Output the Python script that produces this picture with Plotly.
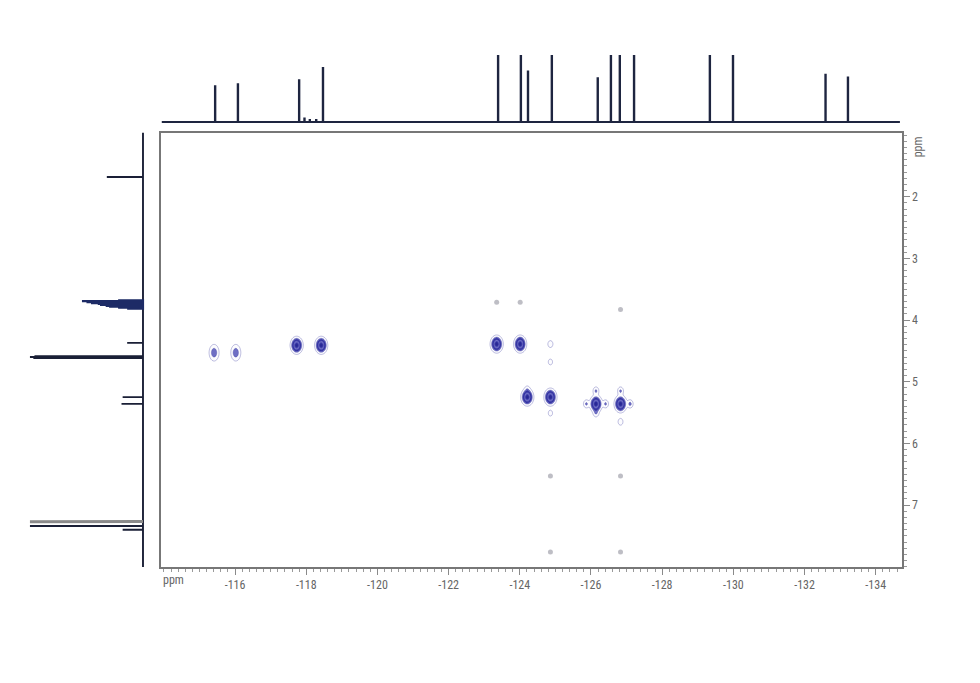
import numpy as np
import plotly.graph_objects as go

# ---------------- data ----------------
# 19F 1D projection (top): peak positions (ppm) and relative heights
f19_ppm = [-115.44, -116.08, -117.80, -117.95, -118.10, -118.28, -118.47, -123.39, -124.03,
           -124.23, -124.90, -126.19, -126.56, -126.81, -127.21, -129.34, -129.99,
           -132.59, -133.22]
f19_int = [0.55, 0.58, 0.64, 0.07, 0.05, 0.05, 0.82, 1.0, 1.0,
           0.77, 1.0, 0.67, 1.0, 1.0, 1.0, 1.0, 1.0,
           0.72, 0.68]

# 1H 1D projection (left)
h1_ppm = [1.68, 4.37, 4.585, 4.60, 4.615, 5.25, 5.36, 7.34, 7.40]
h1_int = [0.32, 0.14, 0.96, 1.0, 0.97, 0.18, 0.19, 1.0, 0.18]
h1_mult_ppm = [3.68, 3.695, 3.71, 3.725, 3.74, 3.755, 3.77, 3.785, 3.80, 3.815]
h1_mult_int = [0.22, 0.54, 0.50, 0.46, 0.40, 0.38, 0.33, 0.30, 0.22, 0.14]
h1_gray_ppm = [7.27]
h1_gray_int = [1.0]

# 2D cross peaks (F19 ppm, H1 ppm, relative intensity)
cp_x = [-115.41, -116.02, -117.73, -118.42, -123.35, -124.01, -124.21, -124.86, -126.14, -126.83]
cp_y = [4.53, 4.53, 4.41, 4.41, 4.39, 4.39, 5.25, 5.25, 5.36, 5.36]
cp_int = [0.30, 0.30, 1.0, 1.0, 1.0, 1.0, 1.0, 1.0, 1.0, 1.0]

# weak satellite cross peaks
sat_x = [-124.86, -124.86, -126.14, -126.83, -126.14, -126.83, -125.87, -126.41, -127.10, -124.86, -124.21]
sat_y = [4.39, 4.68, 5.15, 5.15, 5.51, 5.65, 5.36, 5.36, 5.36, 5.51, 5.12]
sat_int = [0.16, 0.12, 0.22, 0.22, 0.18, 0.15, 0.22, 0.22, 0.24, 0.12, 0.10]

# very weak (grey) cross peaks
gd_x = [-123.35, -124.01, -126.83, -124.86, -126.83, -124.86, -126.83]
gd_y = [3.71, 3.71, 3.83, 6.53, 6.53, 7.76, 7.76]

x_tick_vals = [-116, -118, -120, -122, -124, -126, -128, -130, -132, -134]
x_tick_text = ["-116", "-118", "-120", "-122", "-124", "-126", "-128", "-130", "-132", "-134"]
y_tick_vals = [2, 3, 4, 5, 6, 7]
y_tick_text = ["2", "3", "4", "5", "6", "7"]

# ---------------- layout geometry ----------------
W, H = 980, 683
OFF = 8  # default page body margin


def px(x):
    return (x - OFF) / W


def py(y):
    return (H - (y - OFF)) / H


XR = [-113.91, -134.73]
YR = [8.005, 0.959]
main_x_dom = [px(160.7), px(901.7)]
main_y_dom = [py(567), py(132.5)]
left_x_dom = [px(20), px(150)]

FONT = "Liberation Sans Narrow, Roboto Condensed, Liberation Sans, Arial"

fig = go.Figure()

# ---- 2D contour of cross peaks ----
gx = np.arange(-114.9, -127.7, -0.025)
gy = np.arange(4.0, 5.9, 0.015)
GX, GY = np.meshgrid(gx, gy)
Z = np.zeros_like(GX)
for x0, y0, a in zip(cp_x, cp_y, cp_int):
    sy = 0.075 if a < 0.5 else 0.062
    Z += a * np.exp(-((GX - x0) ** 2) / (2 * 0.078 ** 2) - ((GY - y0) ** 2) / (2 * sy ** 2))
for x0, y0, a in zip(sat_x, sat_y, sat_int):
    Z += a * np.exp(-((GX - x0) ** 2) / (2 * 0.05 ** 2) - ((GY - y0) ** 2) / (2 * 0.04 ** 2))
Z = np.round(Z, 3)

fig.add_trace(go.Contour(
    x=np.round(gx, 4), y=np.round(gy, 4), z=Z,
    xaxis="x", yaxis="y",
    zmin=0, zmax=1,
    contours=dict(start=0.06, end=1.0, size=0.13, coloring="fill", showlines=True),
    line=dict(width=0.6, color="rgba(40,40,150,0.5)"),
    colorscale=[[0.0, "rgba(255,255,255,0)"], [0.06, "rgba(255,255,255,0)"],
                [0.125, "rgba(150,150,215,0.8)"], [0.255, "#5050b6"],
                [0.385, "#30309e"], [0.515, "#5a5abe"], [0.645, "#9494da"],
                [0.775, "#6464c4"], [0.905, "#30309e"], [1.0, "#262690"]],
    showscale=False, hoverinfo="skip",
))

fig.add_trace(go.Scatter(
    x=gd_x, y=gd_y, mode="markers", xaxis="x", yaxis="y",
    marker=dict(size=5, color="rgba(125,125,140,0.5)", line=dict(width=0)),
    hoverinfo="skip", showlegend=False,
))

# ---- top 19F projection as stick spectrum ----
order = np.argsort(f19_ppm)[::-1]
tx, ty = [XR[0] - 0.03], [0.0]
for i in order:
    p, h = f19_ppm[i], f19_int[i]
    tx += [p, p, p]
    ty += [0.0, h, 0.0]
tx.append(XR[1] + 0.05)
ty.append(0.0)
fig.add_trace(go.Scatter(x=tx, y=ty, mode="lines", xaxis="x2", yaxis="y2",
                         line=dict(color="#1e2540", width=2.4), hoverinfo="skip",
                         showlegend=False))


# ---- left 1H projection ----
def sticks(ppm, inten, lo, hi):
    o = np.argsort(ppm)
    ys, xs = [lo], [0.0]
    for i in o:
        ys += [ppm[i], ppm[i], ppm[i]]
        xs += [0.0, inten[i], 0.0]
    ys.append(hi)
    xs.append(0.0)
    return xs, ys


lx, ly = sticks(h1_ppm, h1_int, 0.96, 8.07)
fig.add_trace(go.Scatter(x=lx, y=ly, mode="lines", xaxis="x3", yaxis="y3",
                         line=dict(color="#1a1f36", width=1.9), hoverinfo="skip",
                         showlegend=False))
mx, my = sticks(h1_mult_ppm, h1_mult_int, h1_mult_ppm[0], h1_mult_ppm[-1])
fig.add_trace(go.Scatter(x=mx, y=my, mode="lines", xaxis="x3", yaxis="y3",
                         line=dict(color="#1d2b66", width=2.2), hoverinfo="skip",
                         showlegend=False))
gx2, gy2 = sticks(h1_gray_ppm, h1_gray_int, h1_gray_ppm[0] - 0.001, h1_gray_ppm[0] + 0.001)
fig.add_trace(go.Scatter(x=gx2, y=gy2, mode="lines", xaxis="x3", yaxis="y3",
                         line=dict(color="#8a8a8a", width=3), hoverinfo="skip",
                         showlegend=False))

tickfont = dict(family=FONT, size=12, color="#666666")

fig.update_layout(
    width=W, height=H,
    margin=dict(l=0, r=0, t=0, b=0),
    paper_bgcolor="white", plot_bgcolor="white",
    showlegend=False,
    xaxis=dict(domain=main_x_dom, range=XR, anchor="y",
               tickmode="array", tickvals=x_tick_vals, ticktext=x_tick_text,
               ticks="outside", ticklen=6, tickcolor="#8a8a8a", tickwidth=1,
               minor=dict(dtick=0.2, tick0=-116, ticks="outside", ticklen=3,
                          tickcolor="#9a9a9a", tickwidth=1, showgrid=False),
               showgrid=False, zeroline=False,
               showline=True, mirror=True, linecolor="#777777", linewidth=2,
               tickfont=tickfont),
    yaxis=dict(domain=main_y_dom, range=YR, anchor="x", side="right",
               tickmode="array", tickvals=y_tick_vals, ticktext=y_tick_text,
               ticks="outside", ticklen=6, tickcolor="#8a8a8a", tickwidth=1,
               minor=dict(dtick=0.1, tick0=1, ticks="outside", ticklen=3,
                          tickcolor="#9a9a9a", tickwidth=1, showgrid=False),
               showgrid=False, zeroline=False,
               showline=True, mirror=True, linecolor="#777777", linewidth=2,
               tickfont=tickfont),
    xaxis2=dict(domain=main_x_dom, range=XR, anchor="y2", visible=False),
    yaxis2=dict(domain=[py(123), py(50)], range=[-0.0104, 1.074], anchor="x2",
                visible=False),
    xaxis3=dict(domain=left_x_dom, range=[1.088, -0.062], anchor="y3", visible=False),
    yaxis3=dict(domain=main_y_dom, range=YR, anchor="x3", visible=False),
    annotations=[
        dict(text="ppm", xref="paper", yref="paper", x=px(173), y=py(580),
             showarrow=False, font=tickfont, xanchor="center", yanchor="middle"),
        dict(text="ppm", xref="paper", yref="y", x=px(918), y=1.2,
             showarrow=False, font=tickfont, textangle=-90,
             xanchor="center", yanchor="middle"),
    ],
)

fig.write_html("out.html")
